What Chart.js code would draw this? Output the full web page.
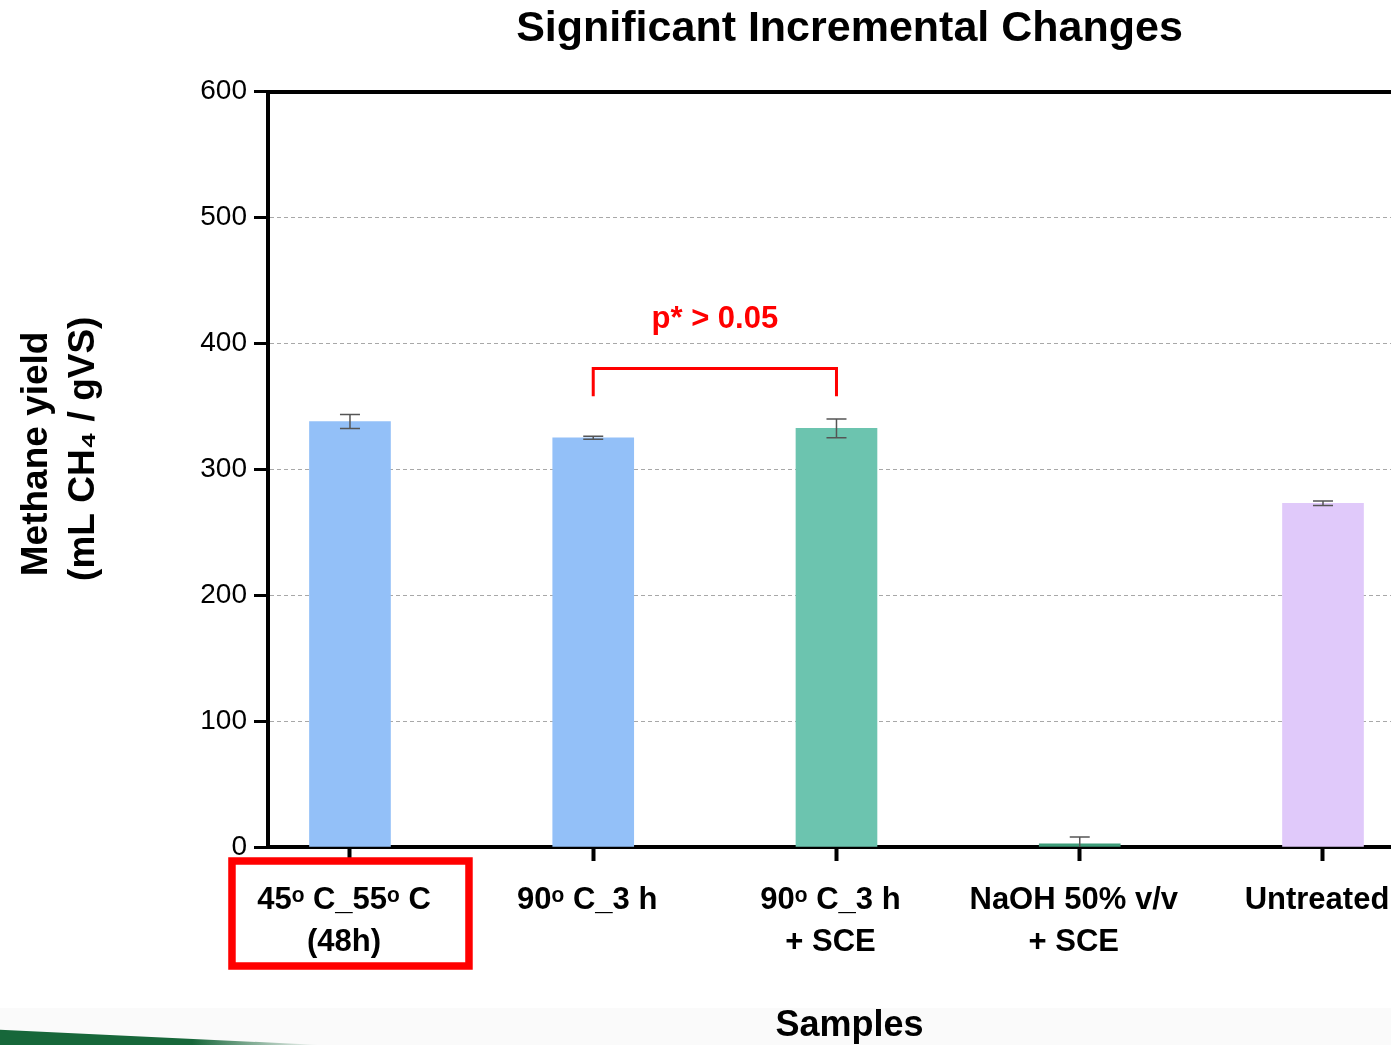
<!DOCTYPE html>
<html>
<head>
<meta charset="utf-8">
<script src="https://cdn.jsdelivr.net/npm/chart.js@4.4.1/dist/chart.umd.min.js"></script>
<style>
    html, body { margin: 0; padding: 0; background: #fff; overflow: hidden; }
    .page { position: relative; width: 1391px; height: 1045px; overflow: hidden; }
    .band { position: absolute; left: 0; top: 1008px; width: 100%; height: 37px; background: #fafafa; }
    .stripe { position: absolute; left: 0; top: 1028px; width: 320px; height: 17px;
              background: linear-gradient(90deg, #17673a 0%, #17673a 60%, rgba(23,103,58,0) 100%);
              clip-path: polygon(0 10%, 100% 100%, 0 100%); }
    .chart-box { position: absolute; left: 0; top: 0; width: 1431px; height: 1045px; }
</style>
</head>
<body>
<div class="page">
    <div class="band"></div>
    <div class="stripe"></div>
    <div class="chart-box"><canvas id="chart"></canvas></div>
</div>
<script>
const categories = [
    ['45ᵒ C_55ᵒ C', '(48h)'],
    '90ᵒ C_3 h',
    ['90ᵒ C_3 h', '+ SCE'],
    ['NaOH 50% v/v', '+ SCE'],
    'Untreated'
];
const yields = [338, 325, 332.5, 2.5, 273];
const errors = [5.6, 1.2, 7.5, 5.5, 1.8];
const barColors = ['#93c0f8', '#93c0f8', '#6cc4af', '#3f9d7a', '#e0c9fa'];
const yTicks = [0, 100, 200, 300, 400, 500, 600];

const FONT = "'Liberation Sans', Arial, sans-serif";

// error bars drawn on top of the bars
const errorBars = {
    id: 'errorBars',
    afterDatasetsDraw(chart) {
        const { ctx, scales: { y } } = chart;
        const meta = chart.getDatasetMeta(0);
        ctx.save();
        ctx.strokeStyle = '#555';
        ctx.lineWidth = 1.5;
        meta.data.forEach((bar, i) => {
            const top = y.getPixelForValue(yields[i] + errors[i]);
            const bottom = Math.min(y.getPixelForValue(yields[i] - errors[i]), y.bottom);
            ctx.beginPath();
            ctx.moveTo(bar.x, top);
            ctx.lineTo(bar.x, bottom);
            ctx.moveTo(bar.x - 10, top);
            ctx.lineTo(bar.x + 10, top);
            if (yields[i] - errors[i] > 0) {
                ctx.moveTo(bar.x - 10, bottom);
                ctx.lineTo(bar.x + 10, bottom);
            }
            ctx.stroke();
        });
        ctx.restore();
    }
};

// significance bracket and the red box round the first label
const annotations = {
    id: 'annotations',
    afterDraw(chart) {
        const { ctx, scales: { x, y } } = chart;
        const x1 = x.getPixelForValue(1);
        const x2 = x.getPixelForValue(2);
        const yTop = y.getPixelForValue(380);
        const yLeg = y.getPixelForValue(358);
        ctx.save();
        ctx.strokeStyle = '#ff0000';
        ctx.lineWidth = 3;
        ctx.beginPath();
        ctx.moveTo(x1, yLeg);
        ctx.lineTo(x1, yTop);
        ctx.lineTo(x2, yTop);
        ctx.lineTo(x2, yLeg);
        ctx.stroke();

        ctx.fillStyle = '#ff0000';
        ctx.font = 'bold 31px ' + FONT;
        ctx.textAlign = 'center';
        ctx.textBaseline = 'middle';
        ctx.fillText('p* > 0.05', (x1 + x2) / 2, y.getPixelForValue(419));

        const cx = x.getPixelForValue(0);
        ctx.lineWidth = 7.5;
        ctx.strokeRect(cx - 118, y.bottom + 14, 237, 105);
        ctx.restore();
    }
};

const chart = new Chart(document.getElementById('chart'), {
    type: 'bar',
    data: {
        datasets: [{
            data: yields.map((v, i) => ({ x: i, y: v })),
            backgroundColor: barColors,
            barThickness: 81,
            borderWidth: 0
        }]
    },
    options: {
        responsive: true,
        maintainAspectRatio: false,
        animation: false,
        layout: { padding: 0 },
        plugins: {
            legend: { display: false },
            tooltip: { enabled: false },
            title: {
                display: true,
                fullSize: false,
                text: 'Significant Incremental Changes',
                color: '#000',
                font: { family: FONT, size: 43, weight: 'bold', lineHeight: 1.2 },
                padding: { top: 3, bottom: 37 }
            }
        },
        scales: {
            x: {
                type: 'linear',
                position: 'bottom',
                min: -0.337,
                max: 4.444,
                offset: false,
                afterBuildTicks: scale => { scale.ticks = categories.map((c, i) => ({ value: i })); },
                afterFit: scale => { scale.height = 198; },
                ticks: {
                    autoSkip: false,
                    maxRotation: 0,
                    padding: 19,
                    labelOffset: -6,
                    color: '#000',
                    font: { family: FONT, size: 31, weight: 'bold', lineHeight: 1.35 },
                    callback: value => categories[value]
                },
                grid: {
                    display: true,
                    offset: false,
                    drawOnChartArea: false,
                    drawTicks: true,
                    tickLength: 14,
                    tickColor: '#000',
                    tickWidth: 4
                },
                border: { display: true, color: '#000', width: 4 },
                title: {
                    display: true,
                    text: 'Samples',
                    color: '#000',
                    font: { family: FONT, size: 36, weight: 'bold', lineHeight: 1.05 },
                    padding: { top: 0, bottom: 0 }
                }
            },
            xTop: {
                type: 'linear',
                position: 'top',
                display: true,
                min: 0,
                max: 1,
                afterFit: scale => { scale.height = 0; },
                ticks: { display: false },
                grid: { display: false, drawTicks: false },
                border: { display: true, color: '#000', width: 4 }
            },
            y: {
                min: 0,
                max: 600,
                afterBuildTicks: scale => { scale.ticks = yTicks.map(v => ({ value: v })); },
                afterFit: scale => { scale.width = 268; },
                ticks: {
                    padding: 7,
                    color: '#000',
                    font: { family: FONT, size: 28 }
                },
                grid: {
                    color: '#a8a8a8',
                    lineWidth: 1,
                    tickLength: 14,
                    tickColor: '#000',
                    tickWidth: 3,
                    tickBorderDash: []
                },
                border: { display: true, color: '#000', width: 4, dash: [4, 3] },
                title: {
                    display: true,
                    text: ['   Methane yield', '    (mL CH₄ / gVS)'],
                    color: '#000',
                    font: { family: FONT, size: 37, weight: 'bold', lineHeight: 1.25 },
                    padding: { top: 14, bottom: 0 }
                }
            }
        }
    },
    plugins: [errorBars, annotations]
});
</script>
</body>
</html>
